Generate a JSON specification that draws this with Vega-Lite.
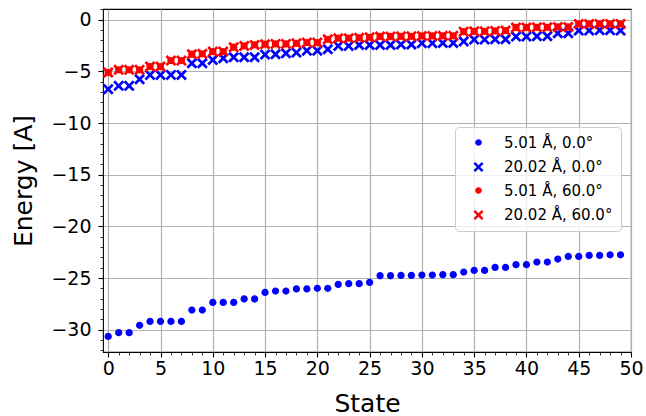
{
  "$schema": "https://vega.github.io/schema/vega-lite/v6.json",
  "width": 528,
  "height": 343,
  "autosize": "none",
  "padding": {"left": 103, "top": 9, "right": 15, "bottom": 64},
  "background": "white",
  "config": {
    "font": "DejaVu Sans",
    "view": {"stroke": "black", "strokeWidth": 1.1},
    "axis": {"domain": false, "tickColor": "black", "labelColor": "black", "titleColor": "black", "titleFontWeight": "normal", "labelFont": "DejaVu Sans", "titleFont": "DejaVu Sans"}
  },
  "data": {"values": [
    {"s":"5.01 Å, 0.0°","x":0,"y":-30.65},{"s":"5.01 Å, 0.0°","x":1,"y":-30.29},{"s":"5.01 Å, 0.0°","x":2,"y":-30.29},{"s":"5.01 Å, 0.0°","x":3,"y":-29.58},{"s":"5.01 Å, 0.0°","x":4,"y":-29.2},{"s":"5.01 Å, 0.0°","x":5,"y":-29.2},{"s":"5.01 Å, 0.0°","x":6,"y":-29.2},{"s":"5.01 Å, 0.0°","x":7,"y":-29.2},{"s":"5.01 Å, 0.0°","x":8,"y":-28.1},{"s":"5.01 Å, 0.0°","x":9,"y":-28.1},
    {"s":"5.01 Å, 0.0°","x":10,"y":-27.36},{"s":"5.01 Å, 0.0°","x":11,"y":-27.36},{"s":"5.01 Å, 0.0°","x":12,"y":-27.36},{"s":"5.01 Å, 0.0°","x":13,"y":-27.03},{"s":"5.01 Å, 0.0°","x":14,"y":-27.03},{"s":"5.01 Å, 0.0°","x":15,"y":-26.39},{"s":"5.01 Å, 0.0°","x":16,"y":-26.26},{"s":"5.01 Å, 0.0°","x":17,"y":-26.26},{"s":"5.01 Å, 0.0°","x":18,"y":-26.06},{"s":"5.01 Å, 0.0°","x":19,"y":-26.06},
    {"s":"5.01 Å, 0.0°","x":20,"y":-26.0},{"s":"5.01 Å, 0.0°","x":21,"y":-26.0},{"s":"5.01 Å, 0.0°","x":22,"y":-25.62},{"s":"5.01 Å, 0.0°","x":23,"y":-25.55},{"s":"5.01 Å, 0.0°","x":24,"y":-25.55},{"s":"5.01 Å, 0.0°","x":25,"y":-25.43},{"s":"5.01 Å, 0.0°","x":26,"y":-24.78},{"s":"5.01 Å, 0.0°","x":27,"y":-24.78},{"s":"5.01 Å, 0.0°","x":28,"y":-24.75},{"s":"5.01 Å, 0.0°","x":29,"y":-24.75},
    {"s":"5.01 Å, 0.0°","x":30,"y":-24.71},{"s":"5.01 Å, 0.0°","x":31,"y":-24.71},{"s":"5.01 Å, 0.0°","x":32,"y":-24.68},{"s":"5.01 Å, 0.0°","x":33,"y":-24.68},{"s":"5.01 Å, 0.0°","x":34,"y":-24.42},{"s":"5.01 Å, 0.0°","x":35,"y":-24.26},{"s":"5.01 Å, 0.0°","x":36,"y":-24.26},{"s":"5.01 Å, 0.0°","x":37,"y":-23.97},{"s":"5.01 Å, 0.0°","x":38,"y":-23.97},{"s":"5.01 Å, 0.0°","x":39,"y":-23.71},
    {"s":"5.01 Å, 0.0°","x":40,"y":-23.71},{"s":"5.01 Å, 0.0°","x":41,"y":-23.45},{"s":"5.01 Å, 0.0°","x":42,"y":-23.45},{"s":"5.01 Å, 0.0°","x":43,"y":-23.16},{"s":"5.01 Å, 0.0°","x":44,"y":-22.91},{"s":"5.01 Å, 0.0°","x":45,"y":-22.91},{"s":"5.01 Å, 0.0°","x":46,"y":-22.81},{"s":"5.01 Å, 0.0°","x":47,"y":-22.81},{"s":"5.01 Å, 0.0°","x":48,"y":-22.75},{"s":"5.01 Å, 0.0°","x":49,"y":-22.75},
    {"s":"20.02 Å, 0.0°","x":0,"y":-6.72},{"s":"20.02 Å, 0.0°","x":1,"y":-6.4},{"s":"20.02 Å, 0.0°","x":2,"y":-6.4},{"s":"20.02 Å, 0.0°","x":3,"y":-5.76},{"s":"20.02 Å, 0.0°","x":4,"y":-5.34},{"s":"20.02 Å, 0.0°","x":5,"y":-5.34},{"s":"20.02 Å, 0.0°","x":6,"y":-5.34},{"s":"20.02 Å, 0.0°","x":7,"y":-5.34},{"s":"20.02 Å, 0.0°","x":8,"y":-4.21},{"s":"20.02 Å, 0.0°","x":9,"y":-4.21},
    {"s":"20.02 Å, 0.0°","x":10,"y":-3.89},{"s":"20.02 Å, 0.0°","x":11,"y":-3.73},{"s":"20.02 Å, 0.0°","x":12,"y":-3.63},{"s":"20.02 Å, 0.0°","x":13,"y":-3.63},{"s":"20.02 Å, 0.0°","x":14,"y":-3.63},{"s":"20.02 Å, 0.0°","x":15,"y":-3.37},{"s":"20.02 Å, 0.0°","x":16,"y":-3.34},{"s":"20.02 Å, 0.0°","x":17,"y":-3.24},{"s":"20.02 Å, 0.0°","x":18,"y":-3.18},{"s":"20.02 Å, 0.0°","x":19,"y":-2.99},
    {"s":"20.02 Å, 0.0°","x":20,"y":-2.99},{"s":"20.02 Å, 0.0°","x":21,"y":-2.86},{"s":"20.02 Å, 0.0°","x":22,"y":-2.53},{"s":"20.02 Å, 0.0°","x":23,"y":-2.53},{"s":"20.02 Å, 0.0°","x":24,"y":-2.44},{"s":"20.02 Å, 0.0°","x":25,"y":-2.44},{"s":"20.02 Å, 0.0°","x":26,"y":-2.44},{"s":"20.02 Å, 0.0°","x":27,"y":-2.44},{"s":"20.02 Å, 0.0°","x":28,"y":-2.4},{"s":"20.02 Å, 0.0°","x":29,"y":-2.4},
    {"s":"20.02 Å, 0.0°","x":30,"y":-2.27},{"s":"20.02 Å, 0.0°","x":31,"y":-2.27},{"s":"20.02 Å, 0.0°","x":32,"y":-2.25},{"s":"20.02 Å, 0.0°","x":33,"y":-2.25},{"s":"20.02 Å, 0.0°","x":34,"y":-2.1},{"s":"20.02 Å, 0.0°","x":35,"y":-1.92},{"s":"20.02 Å, 0.0°","x":36,"y":-1.92},{"s":"20.02 Å, 0.0°","x":37,"y":-1.89},{"s":"20.02 Å, 0.0°","x":38,"y":-1.89},{"s":"20.02 Å, 0.0°","x":39,"y":-1.63},
    {"s":"20.02 Å, 0.0°","x":40,"y":-1.63},{"s":"20.02 Å, 0.0°","x":41,"y":-1.6},{"s":"20.02 Å, 0.0°","x":42,"y":-1.6},{"s":"20.02 Å, 0.0°","x":43,"y":-1.31},{"s":"20.02 Å, 0.0°","x":44,"y":-1.31},{"s":"20.02 Å, 0.0°","x":45,"y":-1.05},{"s":"20.02 Å, 0.0°","x":46,"y":-1.05},{"s":"20.02 Å, 0.0°","x":47,"y":-1.02},{"s":"20.02 Å, 0.0°","x":48,"y":-1.02},{"s":"20.02 Å, 0.0°","x":49,"y":-1.05},
    {"s":"5.01 Å, 60.0°","x":0,"y":-5.11},{"s":"5.01 Å, 60.0°","x":1,"y":-4.85},{"s":"5.01 Å, 60.0°","x":2,"y":-4.85},{"s":"5.01 Å, 60.0°","x":3,"y":-4.85},{"s":"5.01 Å, 60.0°","x":4,"y":-4.53},{"s":"5.01 Å, 60.0°","x":5,"y":-4.53},{"s":"5.01 Å, 60.0°","x":6,"y":-3.95},{"s":"5.01 Å, 60.0°","x":7,"y":-3.95},{"s":"5.01 Å, 60.0°","x":8,"y":-3.34},{"s":"5.01 Å, 60.0°","x":9,"y":-3.3},
    {"s":"5.01 Å, 60.0°","x":10,"y":-3.08},{"s":"5.01 Å, 60.0°","x":11,"y":-3.08},{"s":"5.01 Å, 60.0°","x":12,"y":-2.66},{"s":"5.01 Å, 60.0°","x":13,"y":-2.53},{"s":"5.01 Å, 60.0°","x":14,"y":-2.44},{"s":"5.01 Å, 60.0°","x":15,"y":-2.37},{"s":"5.01 Å, 60.0°","x":16,"y":-2.34},{"s":"5.01 Å, 60.0°","x":17,"y":-2.34},{"s":"5.01 Å, 60.0°","x":18,"y":-2.28},{"s":"5.01 Å, 60.0°","x":19,"y":-2.21},
    {"s":"5.01 Å, 60.0°","x":20,"y":-2.21},{"s":"5.01 Å, 60.0°","x":21,"y":-1.89},{"s":"5.01 Å, 60.0°","x":22,"y":-1.79},{"s":"5.01 Å, 60.0°","x":23,"y":-1.79},{"s":"5.01 Å, 60.0°","x":24,"y":-1.75},{"s":"5.01 Å, 60.0°","x":25,"y":-1.7},{"s":"5.01 Å, 60.0°","x":26,"y":-1.62},{"s":"5.01 Å, 60.0°","x":27,"y":-1.62},{"s":"5.01 Å, 60.0°","x":28,"y":-1.6},{"s":"5.01 Å, 60.0°","x":29,"y":-1.6},
    {"s":"5.01 Å, 60.0°","x":30,"y":-1.57},{"s":"5.01 Å, 60.0°","x":31,"y":-1.57},{"s":"5.01 Å, 60.0°","x":32,"y":-1.55},{"s":"5.01 Å, 60.0°","x":33,"y":-1.55},{"s":"5.01 Å, 60.0°","x":34,"y":-1.15},{"s":"5.01 Å, 60.0°","x":35,"y":-1.12},{"s":"5.01 Å, 60.0°","x":36,"y":-1.12},{"s":"5.01 Å, 60.0°","x":37,"y":-1.08},{"s":"5.01 Å, 60.0°","x":38,"y":-1.05},{"s":"5.01 Å, 60.0°","x":39,"y":-0.75},
    {"s":"5.01 Å, 60.0°","x":40,"y":-0.75},{"s":"5.01 Å, 60.0°","x":41,"y":-0.73},{"s":"5.01 Å, 60.0°","x":42,"y":-0.73},{"s":"5.01 Å, 60.0°","x":43,"y":-0.7},{"s":"5.01 Å, 60.0°","x":44,"y":-0.7},{"s":"5.01 Å, 60.0°","x":45,"y":-0.41},{"s":"5.01 Å, 60.0°","x":46,"y":-0.41},{"s":"5.01 Å, 60.0°","x":47,"y":-0.4},{"s":"5.01 Å, 60.0°","x":48,"y":-0.4},{"s":"5.01 Å, 60.0°","x":49,"y":-0.4},
    {"s":"20.02 Å, 60.0°","x":0,"y":-5.11},{"s":"20.02 Å, 60.0°","x":1,"y":-4.85},{"s":"20.02 Å, 60.0°","x":2,"y":-4.85},{"s":"20.02 Å, 60.0°","x":3,"y":-4.85},{"s":"20.02 Å, 60.0°","x":4,"y":-4.53},{"s":"20.02 Å, 60.0°","x":5,"y":-4.53},{"s":"20.02 Å, 60.0°","x":6,"y":-3.95},{"s":"20.02 Å, 60.0°","x":7,"y":-3.95},{"s":"20.02 Å, 60.0°","x":8,"y":-3.34},{"s":"20.02 Å, 60.0°","x":9,"y":-3.3},
    {"s":"20.02 Å, 60.0°","x":10,"y":-3.08},{"s":"20.02 Å, 60.0°","x":11,"y":-3.08},{"s":"20.02 Å, 60.0°","x":12,"y":-2.66},{"s":"20.02 Å, 60.0°","x":13,"y":-2.53},{"s":"20.02 Å, 60.0°","x":14,"y":-2.44},{"s":"20.02 Å, 60.0°","x":15,"y":-2.37},{"s":"20.02 Å, 60.0°","x":16,"y":-2.34},{"s":"20.02 Å, 60.0°","x":17,"y":-2.34},{"s":"20.02 Å, 60.0°","x":18,"y":-2.28},{"s":"20.02 Å, 60.0°","x":19,"y":-2.21},
    {"s":"20.02 Å, 60.0°","x":20,"y":-2.21},{"s":"20.02 Å, 60.0°","x":21,"y":-1.89},{"s":"20.02 Å, 60.0°","x":22,"y":-1.79},{"s":"20.02 Å, 60.0°","x":23,"y":-1.79},{"s":"20.02 Å, 60.0°","x":24,"y":-1.75},{"s":"20.02 Å, 60.0°","x":25,"y":-1.7},{"s":"20.02 Å, 60.0°","x":26,"y":-1.62},{"s":"20.02 Å, 60.0°","x":27,"y":-1.62},{"s":"20.02 Å, 60.0°","x":28,"y":-1.6},{"s":"20.02 Å, 60.0°","x":29,"y":-1.6},
    {"s":"20.02 Å, 60.0°","x":30,"y":-1.57},{"s":"20.02 Å, 60.0°","x":31,"y":-1.57},{"s":"20.02 Å, 60.0°","x":32,"y":-1.55},{"s":"20.02 Å, 60.0°","x":33,"y":-1.55},{"s":"20.02 Å, 60.0°","x":34,"y":-1.15},{"s":"20.02 Å, 60.0°","x":35,"y":-1.12},{"s":"20.02 Å, 60.0°","x":36,"y":-1.12},{"s":"20.02 Å, 60.0°","x":37,"y":-1.08},{"s":"20.02 Å, 60.0°","x":38,"y":-1.05},{"s":"20.02 Å, 60.0°","x":39,"y":-0.75},
    {"s":"20.02 Å, 60.0°","x":40,"y":-0.75},{"s":"20.02 Å, 60.0°","x":41,"y":-0.73},{"s":"20.02 Å, 60.0°","x":42,"y":-0.73},{"s":"20.02 Å, 60.0°","x":43,"y":-0.7},{"s":"20.02 Å, 60.0°","x":44,"y":-0.7},{"s":"20.02 Å, 60.0°","x":45,"y":-0.41},{"s":"20.02 Å, 60.0°","x":46,"y":-0.41},{"s":"20.02 Å, 60.0°","x":47,"y":-0.4},{"s":"20.02 Å, 60.0°","x":48,"y":-0.4},{"s":"20.02 Å, 60.0°","x":49,"y":-0.4}
  ]},
  "layer": [
    {
      "mark": {"type": "point", "filled": true, "opacity": 1, "strokeWidth": 0, "size": 121},
      "encoding": {
        "x": {"field": "x", "type": "quantitative",
          "scale": {"domain": [-0.5, 50], "nice": false, "zero": false},
          "axis": {"orient": "bottom", "values": [0,5,10,15,20,25,30,35,40,45,50], "grid": true, "gridColor": "#b0b0b0", "gridWidth": 1.2, "tickSize": 5, "tickWidth": 1.1, "labelFontSize": 19, "labelPadding": 2.5, "title": "State", "titleFontSize": 25, "titleBaseline": "alphabetic", "titleY": 59, "labelFlush": false, "labelOverlap": false}},
        "y": {"field": "y", "type": "quantitative",
          "scale": {"domain": [-32.16, 1.04], "nice": false, "zero": false},
          "axis": {"orient": "left", "values": [-30,-25,-20,-15,-10,-5,0], "grid": true, "gridColor": "#b0b0b0", "gridWidth": 1.2, "tickSize": 5, "tickWidth": 1.1, "labelFontSize": 19, "labelPadding": 7, "title": "Energy [A]", "titleFontSize": 25, "titleBaseline": "alphabetic", "titleX": -71.5, "labelFlush": false, "labelOverlap": false}},
        "color": {"field": "s", "type": "nominal",
          "scale": {"domain": ["5.01 Å, 0.0°", "20.02 Å, 0.0°", "5.01 Å, 60.0°", "20.02 Å, 60.0°"], "range": ["#0000ff", "#0000ff", "#ff0000", "#ff0000"]},
          "legend": {"orient": "none", "legendX": 352, "legendY": 118, "title": null, "labelFontSize": 15, "labelColor": "black", "labelFont": "DejaVu Sans", "strokeColor": "#cccccc", "fillColor": "rgba(255,255,255,0.8)", "cornerRadius": 4, "padding": 8, "rowPadding": 7.5, "symbolOffset": 8, "labelOffset": 18, "symbolSize": 100, "symbolOpacity": 1}},
        "shape": {"field": "s", "type": "nominal",
          "scale": {"domain": ["5.01 Å, 0.0°", "20.02 Å, 0.0°", "5.01 Å, 60.0°", "20.02 Å, 60.0°"], "range": ["M-0.66,0A0.66,0.66 0 1,0 0.66,0A0.66,0.66 0 1,0 -0.66,0Z", "M-1,-0.65L-0.65,-1L0,-0.35L0.65,-1L1,-0.65L0.35,0L1,0.65L0.65,1L0,0.35L-0.65,1L-1,0.65L-0.35,0Z", "M-0.66,0A0.66,0.66 0 1,0 0.66,0A0.66,0.66 0 1,0 -0.66,0Z", "M-1,-0.65L-0.65,-1L0,-0.35L0.65,-1L1,-0.65L0.35,0L1,0.65L0.65,1L0,0.35L-0.65,1L-1,0.65L-0.35,0Z"]}}
      }
    },
    {
      "mark": {"type": "point", "opacity": 0},
      "encoding": {
        "x": {"field": "x", "type": "quantitative",
          "axis": {"orient": "bottom", "values": [0,1,2,3,4,5,6,7,8,9,10,11,12,13,14,15,16,17,18,19,20,21,22,23,24,25,26,27,28,29,30,31,32,33,34,35,36,37,38,39,40,41,42,43,44,45,46,47,48,49,50], "grid": false, "labels": false, "tickSize": 3, "tickWidth": 0.8, "title": null}},
        "y": {"field": "y", "type": "quantitative",
          "axis": {"orient": "left", "values": [-32,-31,-30,-29,-28,-27,-26,-25,-24,-23,-22,-21,-20,-19,-18,-17,-16,-15,-14,-13,-12,-11,-10,-9,-8,-7,-6,-5,-4,-3,-2,-1,0,1], "grid": false, "labels": false, "tickSize": 3, "tickWidth": 0.8, "title": null}}
      }
    }
  ],
  "resolve": {"axis": {"x": "independent", "y": "independent"}}
}
